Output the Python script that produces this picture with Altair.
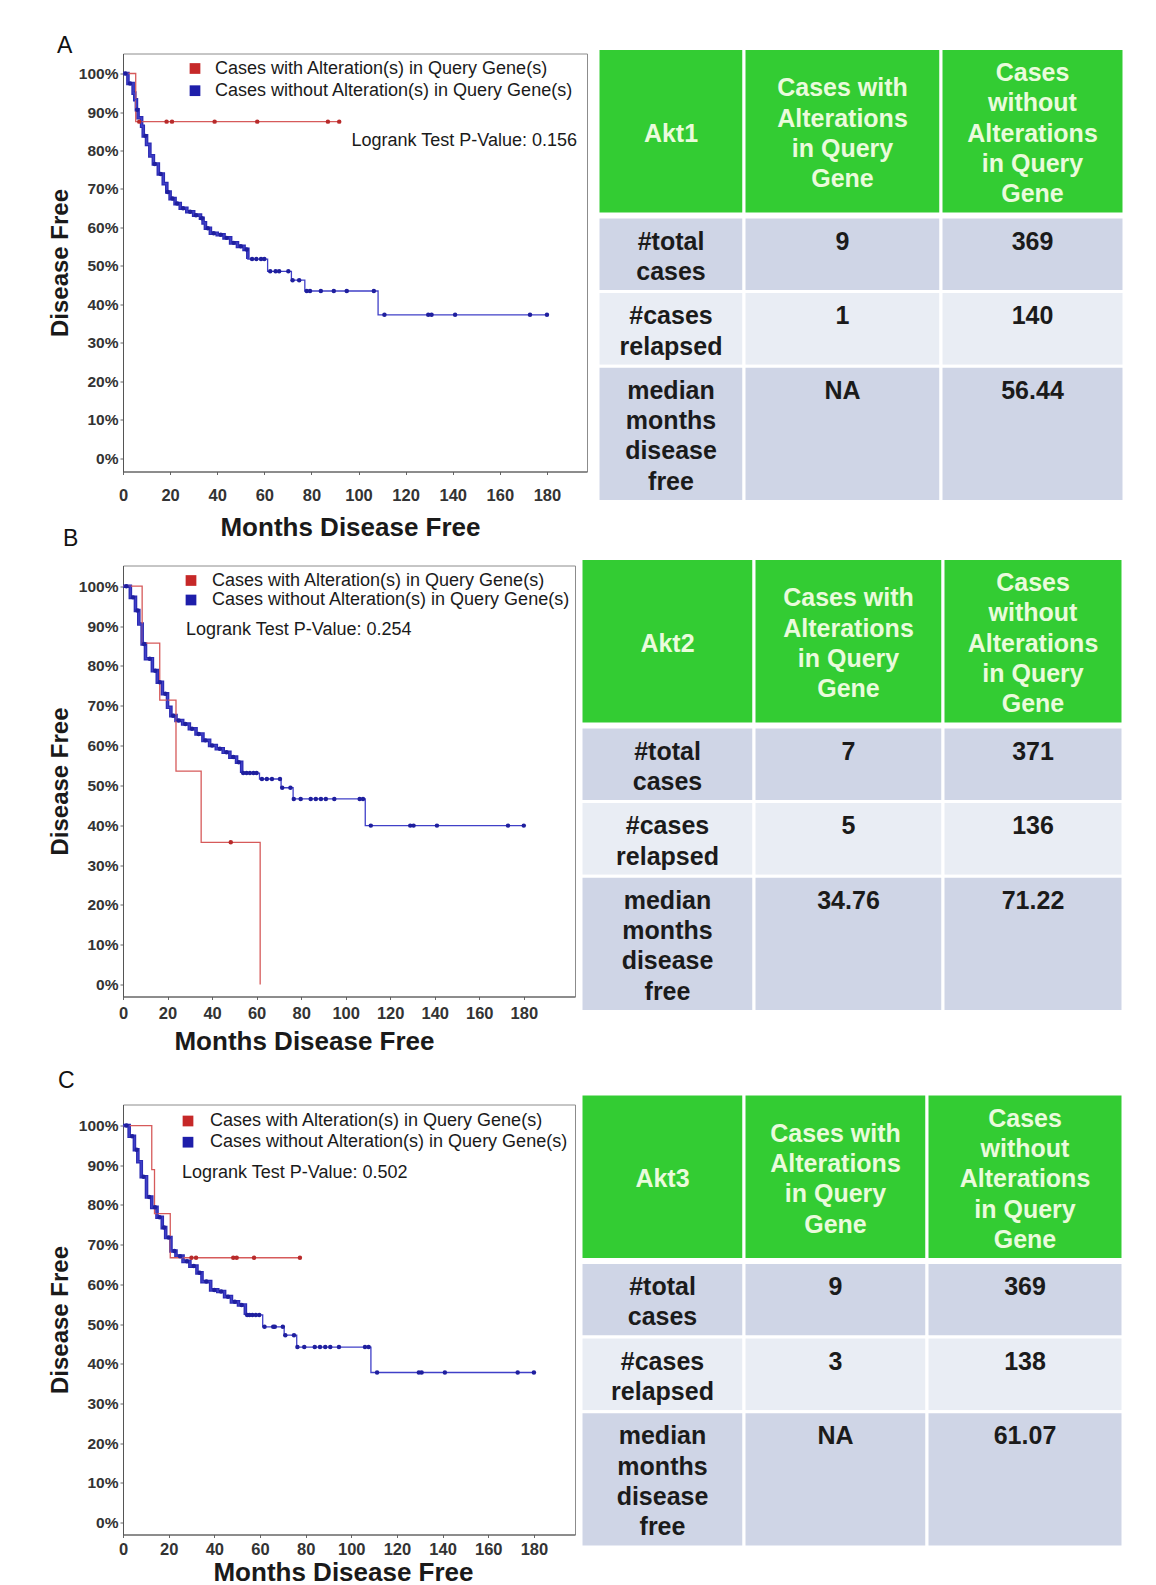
import altair as alt
import pandas as pd

WITH = "Cases with Alteration(s) in Query Gene(s)"
WITHOUT = "Cases without Alteration(s) in Query Gene(s)"
GROUPS = [WITH, WITHOUT]

# ---------------- Panel A (Akt1) ----------------
A_RED_T = [0, 5.4, 91.8]
A_RED_S = [100, 87.5, 87.5]
A_RED_CENS = [6.9, 18.5, 20.8, 38.9, 57.0, 87.0, 91.8]
A_BLUE_T = [0, 2.1, 4.3, 5.0, 5.7, 6.4, 7.9, 8.6, 10.0, 11.4, 12.9, 15.0, 17.1, 18.6,
            20.0, 22.1, 24.3, 27.1, 30.0, 32.9, 34.0, 35.0, 37.1, 40.0, 42.9, 45.7,
            48.6, 51.4, 53.0, 61.4, 71.5, 77.2, 108.3, 180.0]
A_BLUE_S = [100, 97.4, 94.9, 93.2, 90.6, 88.5, 86.3, 83.8, 81.6, 78.6, 76.5, 73.9, 71.4, 69.2,
            67.5, 66.2, 65.0, 64.1, 63.2, 62.4, 61.2, 59.8, 58.5, 58.1, 57.3, 56.0,
            55.1, 54.3, 51.8, 48.6, 46.3, 43.5, 37.3, 37.3]
A_BLUE_CENS = [1.0, 3.0, 6.0, 9.5, 13.5, 16.0, 19.0, 21.0, 23.0, 25.5, 28.5, 31.0, 33.5,
               36.0, 38.5, 41.5, 44.0, 47.0, 50.0, 52.5,
               54.8, 56.6, 58.6, 60.0, 62.5, 64.8, 66.3, 70.2, 72.0, 74.8, 78.0, 79.4,
               84.0, 89.5, 95.0, 106.5, 111.0, 129.6, 131.0, 141.0, 172.8, 180.0]
A_PVALUE = "Logrank Test P-Value: 0.156"

# ---------------- Panel B (Akt2) ----------------
B_RED_T = [0, 8.6, 16.5, 23.8, 35.1, 61.6]
B_RED_S = [100, 85.7, 71.4, 53.6, 35.7, 0]
B_RED_CENS = [48.4]
B_BLUE_T = [0, 3.3, 5.6, 7.1, 8.6, 10.1, 13.2, 15.4, 17.7, 20.0, 21.5, 23.8, 26.8, 29.8,
            32.8, 35.9, 38.9, 41.9, 45.0, 48.0, 51.0, 53.3, 61.3, 71.0, 76.4, 108.8, 180.0]
B_BLUE_S = [100, 97.2, 93.9, 90.5, 85.5, 81.8, 78.8, 75.9, 73.0, 69.6, 67.5, 66.3, 65.4, 64.2,
            62.9, 61.3, 60.0, 59.2, 58.3, 57.1, 55.8, 53.1, 51.6, 49.4, 46.6, 39.9, 39.9]
B_BLUE_CENS = [1.5, 4.5, 6.5, 9.5, 12.0, 14.5, 16.5, 19.0, 22.5, 25.0, 28.0, 31.0, 34.0,
               37.0, 40.0, 43.5, 46.5, 49.5, 52.0,
               54.0, 55.5, 57.0, 58.6, 60.0, 62.4, 64.6, 66.9, 70.5, 71.5, 75.2, 76.7, 79.8,
               84.3, 86.6, 88.9, 91.1, 94.9, 106.3, 107.8, 111.3, 129.0, 130.5, 141.0,
               172.9, 180.0]
B_PVALUE = "Logrank Test P-Value: 0.254"

# ---------------- Panel C (Akt3) ----------------
C_RED_T = [0, 12.6, 13.8, 20.7, 77.5]
C_RED_S = [100, 88.9, 77.8, 66.7, 66.7]
C_RED_CENS = [30.0, 32.0, 48.3, 49.8, 57.4, 77.5]
C_BLUE_T = [0, 2.7, 5.0, 6.5, 8.0, 10.3, 12.6, 14.9, 17.2, 18.7, 21.0, 23.2, 26.3, 29.3,
            32.4, 34.6, 38.4, 41.5, 44.5, 47.5, 50.6, 53.6, 61.2, 70.6, 76.1, 108.6, 180.0]
C_BLUE_S = [100, 97.3, 93.9, 90.9, 87.1, 82.0, 79.4, 76.9, 74.3, 71.8, 68.4, 67.1, 65.8, 64.6,
            62.9, 60.7, 58.6, 58.2, 56.9, 55.6, 54.8, 52.3, 49.3, 47.2, 44.2, 37.8, 37.8]
C_BLUE_CENS = [1.5, 4.0, 6.0, 9.0, 11.5, 14.0, 16.0, 18.0, 20.0, 22.5, 25.0, 28.0, 31.0,
               33.5, 36.5, 40.0, 43.0, 46.0, 49.0, 52.0,
               54.4, 55.4, 56.7, 58.2, 59.7, 62.0, 65.8, 66.5, 70.0, 71.1, 74.9, 76.4, 79.4,
               84.0, 86.3, 88.6, 90.8, 94.6, 106.0, 107.6, 111.3, 129.6, 130.8, 141.0,
               172.9, 180.0]
C_PVALUE = "Logrank Test P-Value: 0.502"

# ---------------- Tables ----------------
ROW_LABELS = ["#total\ncases", "#cases\nrelapsed", "median\nmonths\ndisease\nfree"]
HEADER_WITH = "Cases with\nAlterations\nin Query\nGene"
HEADER_WITHOUT = "Cases\nwithout\nAlterations\nin Query\nGene"
A_GENE, A_WITH_VALS, A_WITHOUT_VALS = "Akt1", ["9", "1", "NA"], ["369", "140", "56.44"]
B_GENE, B_WITH_VALS, B_WITHOUT_VALS = "Akt2", ["7", "5", "34.76"], ["371", "136", "71.22"]
C_GENE, C_WITH_VALS, C_WITHOUT_VALS = "Akt3", ["9", "3", "NA"], ["369", "138", "61.07"]

# ---------------- styling / layout ----------------
FONT = "Liberation Sans"
RED_LINE, BLUE_LINE = "#d65a5a", "#4040c8"
RED_DOT, BLUE_DOT = "#b82a2a", "#1f1f9e"
RED_KEY, BLUE_KEY = "#c62828", "#1e1eaa"
DENSE_BLUE = "#2b2bb3"
GREEN, ROW_DARK, ROW_LIGHT = "#33cc33", "#cfd5e6", "#e9edf4"
HEAD_TXT, BODY_TXT = "#eafbdc", "#1b1b1b"
LINE_H, CELL_PAD, HEADER_GAP = 30.3, 14, 3


def step_value(ts, ss, t):
    v = ss[0]
    for ti, si in zip(ts, ss):
        if ti <= t:
            v = si
    return v


def km_panel(letter, red_t, red_s, red_c, blue_t, blue_s, blue_c, ptext, lay):
    w, h = lay["w"], lay["h"]
    xmax = lay["xmax"]
    y0, y1 = lay["ydom"]

    def tx(px):  # position inside the frame (pixels) -> months
        return px / w * xmax

    def sy(py):  # position inside the frame (pixels) -> percent
        return y1 - py / h * (y1 - y0)

    curves = pd.DataFrame({
        "t": red_t + blue_t,
        "s": red_s + blue_s,
        "g": [WITH] * len(red_t) + [WITHOUT] * len(blue_t),
    })
    cens = pd.DataFrame({
        "t": red_c + blue_c,
        "s": [step_value(red_t, red_s, t) for t in red_c] + [step_value(blue_t, blue_s, t) for t in blue_c],
        "g": [WITH] * len(red_c) + [WITHOUT] * len(blue_c),
    })
    key = pd.DataFrame({
        "t": [tx(lay["lx"])] * 2,
        "tl": [tx(lay["ltx"])] * 2,
        "s": [sy(lay["ly"]), sy(lay["ly"] + lay["lgap"])],
        "g": GROUPS,
    })
    ann = pd.DataFrame({"t": [tx(lay["pvx"])], "s": [sy(lay["pvy"])], "label": [ptext]})

    x_axis = alt.Axis(values=list(range(0, 181, 20)), title="Months Disease Free",
                      labelFont=FONT, labelFontSize=16.5, labelFontWeight="bold", labelColor="#333",
                      labelPadding=lay["xlp"], tickSize=3, tickColor="#666", domainColor="#555",
                      titleFont=FONT, titleFontSize=26, titleFontWeight="bold", titleColor="#1a1a1a",
                      titlePadding=lay["xtp"], titleX=lay["xtx"], grid=False, labelFlush=False)
    y_axis = alt.Axis(values=list(range(0, 101, 10)), labelExpr="datum.value + '%'", title="Disease Free",
                      labelFont=FONT, labelFontSize=15.5, labelFontWeight="bold", labelColor="#333",
                      labelPadding=2, tickSize=3, tickColor="#666", domainColor="#555",
                      titleFont=FONT, titleFontSize=24, titleFontWeight="bold", titleColor="#1a1a1a",
                      titlePadding=lay["ytp"], grid=False)
    ex = alt.X("t:Q", scale=alt.Scale(domain=[0, xmax], nice=False, zero=False), axis=x_axis)
    ey = alt.Y("s:Q", scale=alt.Scale(domain=[y0, y1], nice=False, zero=False), axis=y_axis)

    dense = alt.Chart(curves).transform_filter(
        (alt.datum.g == WITHOUT) & (alt.datum.t <= lay["dense"])
    ).mark_line(interpolate="step-after", strokeWidth=3.6, color=DENSE_BLUE).encode(x=ex, y=ey)
    lines = alt.Chart(curves).mark_line(interpolate="step-after", strokeWidth=1.3).encode(
        x=ex, y=ey,
        stroke=alt.Stroke("g:N", scale=alt.Scale(domain=GROUPS, range=[RED_LINE, BLUE_LINE]), legend=None),
    )
    pts = alt.Chart(cens).mark_point(filled=True, size=20, opacity=1, shape="circle").encode(
        x=ex, y=ey,
        color=alt.Color("g:N", scale=alt.Scale(domain=GROUPS, range=[RED_DOT, BLUE_DOT]), legend=None),
    )
    key_sq = alt.Chart(key).mark_square(size=115, opacity=1, filled=True).encode(
        x=ex, y=ey,
        fill=alt.Fill("g:N", scale=alt.Scale(domain=GROUPS, range=[RED_KEY, BLUE_KEY]), legend=None),
    )
    key_txt = alt.Chart(key).mark_text(align="left", baseline="middle", font=FONT, fontSize=18,
                                       color="#1a1a1a").encode(
        x=alt.X("tl:Q", scale=alt.Scale(domain=[0, xmax], nice=False, zero=False), axis=x_axis),
        y=ey, text="g:N")
    pv = alt.Chart(ann).mark_text(align=lay["pv_align"], baseline="middle", font=FONT, fontSize=18,
                                  color="#1a1a1a").encode(x=ex, y=ey, text="label:N")
    return alt.layer(dense, lines, pts, key_sq, key_txt, pv).properties(
        width=w, height=h,
        title=alt.TitleParams(text=letter, anchor="start", frame="group", dx=lay["tdx"],
                              offset=lay["toff"], baseline="alphabetic", font=FONT, fontSize=23,
                              fontWeight="normal", color="#111"),
    )


def table_panel(gene, with_vals, without_vals, lay):
    header = [gene, HEADER_WITH, HEADER_WITHOUT]
    nlines = [max(len(s.split("\n")) for s in header)] + [len(s.split("\n")) for s in ROW_LABELS]
    heights = [n * LINE_H + CELL_PAD for n in nlines]
    tops, y = [], 0.0
    for i, hh in enumerate(heights):
        tops.append(y)
        y += hh + (HEADER_GAP if i == 0 else 0)
    edges = [0.0]
    for cw in lay["cols"]:
        edges.append(edges[-1] + cw)
    kinds = ["header", "dark", "light", "dark"]
    cells = []
    for r in range(4):
        for c in range(3):
            cells.append({"x0": edges[c], "x1": edges[c + 1], "y0": tops[r], "y1": tops[r] + heights[r],
                          "kind": kinds[r]})
    cells = pd.DataFrame(cells)

    def first_line(top, hh, txt):  # centre of the first line of a vertically centred text block
        n = len(txt.split("\n"))
        return top + (hh - (n - 1) * LINE_H) / 2

    head = pd.DataFrame({
        "x": [(edges[c] + edges[c + 1]) / 2 for c in range(3)],
        "y": [first_line(tops[0], heights[0], s) for s in header],
        "txt": header,
    })
    body = []
    for r in range(3):
        top, hh = tops[r + 1], heights[r + 1]
        fl = first_line(top, hh, ROW_LABELS[r])
        body.append({"x": (edges[0] + edges[1]) / 2, "y": fl, "txt": ROW_LABELS[r]})
        body.append({"x": (edges[1] + edges[2]) / 2, "y": fl, "txt": with_vals[r]})
        body.append({"x": (edges[2] + edges[3]) / 2, "y": fl, "txt": without_vals[r]})
    body = pd.DataFrame(body)

    vw, vh, sx, sy = lay["vw"], lay["vh"], lay["sx"], lay["sy"]
    xs = alt.Scale(domain=[-sx, -sx + vw], nice=False, zero=False)
    ys = alt.Scale(domain=[-sy, -sy + vh], nice=False, zero=False, reverse=True)
    rects = alt.Chart(cells).mark_rect(stroke="white", strokeWidth=3).encode(
        x=alt.X("x0:Q", scale=xs, axis=None), x2="x1:Q",
        y=alt.Y("y0:Q", scale=ys, axis=None), y2="y1:Q",
        fill=alt.Fill("kind:N", scale=alt.Scale(domain=["header", "dark", "light"],
                                                range=[GREEN, ROW_DARK, ROW_LIGHT]), legend=None),
    )
    txt_kw = dict(font=FONT, fontSize=25, fontWeight="bold", lineBreak="\n", lineHeight=LINE_H,
                  align="center", baseline="middle", dy=2.5)
    htxt = alt.Chart(head).mark_text(color=HEAD_TXT, **txt_kw).encode(
        x=alt.X("x:Q", scale=xs, axis=None), y=alt.Y("y:Q", scale=ys, axis=None), text="txt:N")
    btxt = alt.Chart(body).mark_text(color=BODY_TXT, **txt_kw).encode(
        x=alt.X("x:Q", scale=xs, axis=None), y=alt.Y("y:Q", scale=ys, axis=None), text="txt:N")
    return alt.layer(rects, htxt, btxt).properties(
        width=vw, height=vh, view=alt.ViewBackground(strokeOpacity=0))


KM_A = dict(w=464, h=418, xmax=197, ydom=[-3.4, 105.2], dense=54.5,
            lx=72, ltx=92, ly=15, lgap=22.2, pvx=454, pvy=87.5, pv_align="right",
            tdx=-66, toff=-22.5, xlp=13, xtp=10, xtx=227, ytp=6)
KM_B = dict(w=452, h=431, xmax=203, ydom=[-3.0, 105.2], dense=53.5,
            lx=68, ltx=89, ly=15, lgap=19.5, pvx=63, pvy=64.5, pv_align="left",
            tdx=-60, toff=-3.5, xlp=6, xtp=6, xtx=181, ytp=6)
KM_C = dict(w=452, h=430, xmax=198, ydom=[-3.0, 105.3], dense=54.0,
            lx=65, ltx=87, ly=16.5, lgap=21.2, pvx=59, pvy=68.5, pv_align="left",
            tdx=-65, toff=-6, xlp=4, xtp=1, xtx=220, ytp=6)
TB_A = dict(cols=[146, 197, 183], vw=529, vh=418, sx=3, sy=-5)
TB_B = dict(cols=[173, 189, 180], vw=528, vh=444.5, sx=-14, sy=-7)
TB_C = dict(cols=[163, 183, 196], vw=528, vh=430, sx=-14, sy=-10.5)

km_a = km_panel("A", A_RED_T, A_RED_S, A_RED_CENS, A_BLUE_T, A_BLUE_S, A_BLUE_CENS, A_PVALUE, KM_A)
km_b = km_panel("B", B_RED_T, B_RED_S, B_RED_CENS, B_BLUE_T, B_BLUE_S, B_BLUE_CENS, B_PVALUE, KM_B)
km_c = km_panel("C", C_RED_T, C_RED_S, C_RED_CENS, C_BLUE_T, C_BLUE_S, C_BLUE_CENS, C_PVALUE, KM_C)
tb_a = table_panel(A_GENE, A_WITH_VALS, A_WITHOUT_VALS, TB_A)
tb_b = table_panel(B_GENE, B_WITH_VALS, B_WITHOUT_VALS, TB_B)
tb_c = table_panel(C_GENE, C_WITH_VALS, C_WITHOUT_VALS, TB_C)

chart = alt.concat(
    km_a, tb_a, km_b, tb_b, km_c, tb_c,
    columns=2, spacing={"row": 94, "column": 8}, align="none", bounds="flush",
).resolve_scale(
    color="independent", stroke="independent", fill="independent"
).properties(
    padding={"left": 39, "top": 26.5, "right": 5, "bottom": 0},
    background="white",
).configure(
    font=FONT,
).configure_view(
    stroke="#8c8c8c", strokeWidth=1,
)

chart.save("out.html", embed_options={"renderer": "svg", "actions": False})
